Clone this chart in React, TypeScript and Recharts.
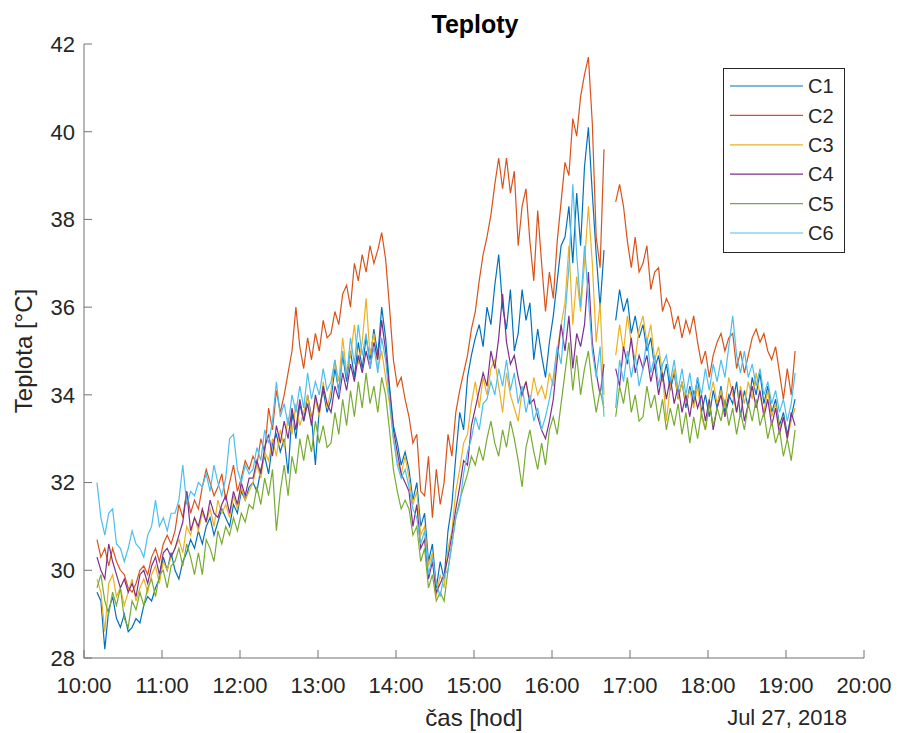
import { Line, LineChart, XAxis, YAxis } from 'recharts'

const FONT = '"Liberation Sans", Arial, Helvetica, sans-serif'
const AXIS = '#737373'
const TEXT = '#262626'

// samples every 3 minutes starting at 10:10 (minutes since midnight)
const MINUTE_START = 610
const STEP_MIN = 3

// one row = one hour (20 samples); null = logger gap around 16:43-16:46
const C1 = [
  29.5, 29.3, 28.2, 29.1, 29.4, 28.9, 28.7, 29.0, 28.6, 28.7, 28.9, 28.8, 29.2, 29.4, 29.3, 29.6, 29.8, 30.3, 30.0, 30.4,
  30.0, 29.8, 30.2, 30.4, 30.7, 30.5, 30.9, 30.6, 31.0, 31.2, 30.8, 31.1, 31.4, 31.2, 31.0, 31.5, 31.3, 31.8, 31.6, 31.9,
  32.0, 31.8, 32.3, 32.6, 32.2, 32.9, 33.1, 32.7, 33.0, 32.2, 33.6, 33.0, 33.8, 33.4, 34.0, 33.5, 32.4, 33.7, 34.1, 33.6,
  33.9, 34.6, 34.1, 34.9, 34.3, 35.0, 34.4, 35.2, 34.6, 35.3, 34.8, 35.5, 34.9, 36.0, 35.3, 34.2, 33.3, 32.9, 32.4, 32.7,
  32.3, 31.6, 32.0, 31.0, 31.3, 30.2, 30.6, 29.6, 30.2, 29.8, 30.9, 31.5, 32.6, 33.6, 33.2, 34.4, 34.9, 35.3, 35.6, 35.1,
  36.0, 35.6, 36.5, 37.2, 36.0, 35.5, 36.4, 35.0, 35.4, 36.4, 35.7, 36.1, 34.8, 35.5, 34.9, 34.4, 35.2, 35.8, 36.6, 37.4,
  37.6, 38.3, 37.0, 38.6, 37.4, 39.2, 40.1, 38.6, 37.2, 36.0, 37.3, null, null, 35.7, 36.4, 35.9, 36.2, 35.4, 35.8, 35.3,
  35.6, 35.0, 35.3, 34.6, 34.9, 34.3, 34.7, 34.1, 34.5, 33.9, 34.3, 33.7, 34.2, 33.8, 34.4, 33.6, 34.0, 33.5, 34.1, 33.7,
  34.2, 33.6, 34.0, 33.8, 34.3, 33.5, 34.1, 33.7, 34.4, 34.0, 34.5, 33.8, 34.2, 33.6, 33.9, 33.3, 33.6, 33.1, 33.5, 33.9,
]
const C2 = [
  30.7, 30.3, 30.5, 30.1, 30.5, 30.2, 30.0, 29.9, 29.6, 29.5, 29.7, 30.0, 30.1, 29.9, 30.3, 30.5, 30.2, 30.6, 30.8, 30.6,
  30.9, 31.5, 31.2, 31.8, 31.3, 31.6, 31.4, 31.9, 32.3, 32.0, 31.7, 31.9, 32.2, 31.6, 32.0, 32.4, 31.8, 32.1, 32.5, 32.3,
  32.6, 32.4, 33.0, 32.7, 33.7, 33.2, 34.1, 33.6, 34.0, 34.5, 35.0, 36.0, 35.1, 34.6, 35.3, 34.8, 35.4, 35.0, 35.7, 35.3,
  35.4, 35.9, 35.6, 36.3, 36.5, 36.0, 37.0, 36.6, 37.2, 36.8, 37.4, 37.0, 37.3, 37.7, 37.1, 36.0, 34.8, 34.2, 34.4, 33.9,
  33.5, 32.9, 33.1, 31.8, 31.7, 32.6, 31.2, 32.3, 31.5, 32.0, 33.1, 32.6, 33.6, 34.1, 34.5, 34.9, 35.5, 35.9, 36.6, 37.2,
  37.6, 38.1, 38.8, 39.4, 38.7, 39.4, 38.6, 39.1, 37.4, 38.3, 38.7, 37.5, 36.6, 38.2, 37.0, 35.9, 36.8, 36.2, 37.5, 38.4,
  39.3, 39.0, 40.3, 39.9, 40.8, 41.3, 41.7, 40.2, 37.6, 36.9, 39.6, null, null, 38.4, 38.8, 38.3, 37.5, 36.9, 37.6, 36.8,
  37.0, 37.4, 36.4, 36.8, 36.9, 35.9, 36.2, 36.0, 35.5, 35.8, 35.3, 35.7, 35.4, 35.8, 35.2, 34.7, 35.0, 34.4, 34.9, 35.2,
  35.4, 35.0, 35.3, 35.4, 34.6, 35.0, 34.5, 34.9, 35.3, 35.5, 35.2, 35.4, 35.0, 34.8, 35.1, 34.5, 33.9, 34.6, 34.0, 35.0,
]
const C3 = [
  29.8, 29.5, 28.6, 29.7, 29.9, 29.4, 29.6, 29.2, 29.5, 29.8, 29.3, 29.6, 29.8, 29.5, 29.9, 30.1, 29.7, 30.2, 30.0, 30.3,
  30.5, 30.7, 30.4, 31.0, 30.8, 31.2, 30.9, 31.3, 31.1, 31.4, 31.0, 31.6, 31.3, 31.5, 31.2, 31.7, 31.4, 31.9, 31.6, 31.8,
  32.0, 32.4, 32.1, 32.7, 32.5, 33.0, 32.6, 33.2, 32.8, 33.5, 33.1, 33.8, 33.3, 33.6, 34.0, 33.4, 33.9, 33.5, 34.3, 33.7,
  34.1, 34.8, 34.3, 35.3, 34.5, 34.9, 35.6, 34.7, 35.2, 36.2, 34.9, 35.4, 34.6, 35.0, 34.4, 33.8, 33.0, 32.5, 32.2, 32.6,
  32.1, 31.5, 31.8, 30.8, 31.0, 30.1, 30.4, 29.4, 29.9, 29.6, 30.5, 30.9, 31.8, 32.3, 32.9, 33.1, 33.8, 34.3, 33.7, 34.4,
  34.0, 34.6, 34.8, 34.2, 33.6, 34.5, 34.0, 33.7, 33.4, 34.1, 34.3, 33.8, 34.4, 34.0, 34.2, 33.9, 34.5, 34.2, 35.0, 35.6,
  36.1, 37.4, 35.6, 36.7, 35.9, 37.0, 38.3, 37.0, 35.2, 36.1, 34.0, null, null, 34.9, 35.6, 35.0, 35.8, 35.2, 34.8, 35.5,
  35.8, 35.2, 35.6, 34.8, 35.1, 34.5, 33.4, 34.2, 34.6, 33.9, 34.3, 33.8, 34.1, 33.7, 34.2, 33.5, 33.2, 33.9, 34.3, 33.8,
  34.1, 33.7, 34.4, 34.0, 33.6, 34.2, 33.8, 34.3, 33.9, 34.5, 34.0, 33.6, 34.1, 33.5, 33.8, 33.2, 33.5, 33.0, 33.4, 33.7,
]
const C4 = [
  30.3, 30.0, 29.8, 30.6, 30.2, 29.9, 29.6, 29.8, 29.5, 29.7, 29.4, 29.9, 30.0, 29.7, 30.1, 30.3, 29.9, 30.4, 30.5, 30.3,
  30.5, 30.8, 31.1, 31.8, 30.9, 31.2, 31.0, 31.4, 31.1, 31.6, 31.3, 31.2, 31.5, 31.7, 31.3, 31.8, 31.5, 32.0, 31.7, 32.1,
  32.1, 32.5, 32.2, 32.8, 33.1, 32.6, 33.3, 32.9, 33.4, 33.0, 33.7, 33.2, 33.9, 33.4, 33.8, 33.3, 34.0, 33.6, 34.2, 33.8,
  33.6, 34.2, 33.9, 34.5, 34.1, 34.7, 34.3, 34.9, 34.5, 35.0, 34.6, 35.2, 34.8, 35.7, 35.0, 34.1, 33.2, 32.7, 32.2, 32.0,
  31.8, 31.0, 31.5, 30.5, 30.7, 29.8, 30.2, 29.5, 29.7, 29.9, 30.3, 30.8, 31.4, 31.9, 32.5, 32.4, 33.3, 33.7, 34.1, 34.5,
  34.2, 35.0, 34.6, 35.3, 36.3, 35.2, 34.7, 34.9, 34.4, 34.0, 34.3, 33.8, 33.9, 33.5, 33.2, 33.0, 33.4, 33.9, 34.8, 35.6,
  35.0, 35.8, 34.6, 35.4, 35.1, 35.6, 36.8, 35.2, 34.5, 34.0, 34.7, null, null, 34.6, 34.2, 35.1, 34.7, 35.3, 34.5, 34.9,
  34.6, 34.9, 34.3, 34.7, 34.0, 34.5, 33.9, 34.4, 33.8, 34.2, 33.6, 34.0, 33.5, 34.1, 33.7, 34.0, 33.4, 33.9, 33.2, 33.7,
  34.0, 33.5, 33.9, 34.2, 33.6, 34.1, 33.4, 33.8, 34.2, 33.7, 34.1, 33.5, 33.9, 33.3, 33.7, 33.1, 33.5, 33.0, 33.6, 33.3,
]
const C5 = [
  29.6, 29.9, 29.3, 29.0, 29.5, 29.2, 29.6, 28.9, 28.7, 29.3, 29.1, 29.5, 29.2, 29.6, 29.8, 29.4, 29.9, 30.0, 29.6, 30.1,
  30.2, 30.5, 30.1, 30.6, 30.3, 29.9, 30.4, 29.9, 30.7, 30.5, 30.2, 30.9, 30.6, 31.0, 30.8, 31.2, 30.9, 31.3, 31.1, 31.5,
  31.4, 31.9, 31.5, 32.1, 31.7, 32.3, 30.9, 31.8, 32.4, 31.7, 32.6, 32.2, 33.0, 32.5, 33.1, 32.7, 33.4, 32.9, 33.3, 32.8,
  32.9, 33.6, 33.1, 33.9, 33.3, 34.1, 33.5, 34.3, 33.7, 34.5, 33.8, 34.2, 33.6, 34.4, 34.0, 33.2, 32.3, 31.8, 31.4, 31.6,
  31.4, 30.8, 31.0, 30.2, 30.5, 29.6, 29.9, 29.3, 29.5, 29.3, 30.0, 30.6, 31.2, 31.6, 31.9, 32.2, 32.6, 32.4, 32.8, 32.5,
  33.0, 33.4, 32.9, 32.6, 33.2, 32.8, 33.4, 33.0, 32.5, 31.9, 32.8, 33.2, 32.7, 32.3, 32.9, 32.4, 33.2, 33.5, 33.1, 33.8,
  34.5, 35.2, 34.1, 34.9, 34.0, 34.6, 35.0, 34.2, 33.6, 34.1, 33.7, null, null, 33.5, 34.2, 33.8, 34.4, 33.6, 34.0, 33.4,
  33.5, 34.2, 33.7, 34.0, 33.4, 33.9, 33.2, 33.7, 33.3, 33.8, 33.1, 33.6, 32.9, 33.5, 33.0, 33.6, 33.2, 33.8, 33.3, 33.7,
  33.4, 33.9, 33.3, 33.7, 33.1, 33.6, 33.2, 33.8, 33.4, 33.9, 33.3, 33.6, 33.0, 33.4, 32.9, 33.2, 32.6, 33.0, 32.5, 33.2,
]
const C6 = [
  32.0, 31.2, 30.8, 31.3, 31.4, 30.6, 30.5, 30.2, 30.5, 30.9, 30.6, 30.5, 30.3, 30.8, 31.0, 31.6, 31.0, 31.2, 30.9, 31.3,
  31.3, 31.6, 32.4, 31.5, 31.8, 31.7, 32.0, 31.9, 32.2, 31.8, 32.4, 32.0, 31.7, 32.1, 33.0, 33.1, 32.3, 32.0, 32.4, 32.2,
  32.3, 32.8, 32.5, 33.2, 32.9, 33.4, 34.3, 33.5, 33.8, 33.3, 34.0, 33.6, 34.2, 33.7, 34.5, 33.9, 34.3, 34.0, 34.6, 34.1,
  34.3, 34.8, 34.0, 35.0, 34.4, 35.3, 34.7, 35.6, 34.9, 35.4, 34.6, 35.1, 34.5, 35.3, 34.8, 33.9, 33.0, 32.4, 32.1, 32.3,
  31.9, 31.4, 31.2, 30.6, 30.9, 29.9, 30.3, 29.7, 29.4, 29.9, 30.0, 30.6, 31.2, 31.5, 32.2, 32.7, 33.0, 33.5, 33.2, 33.8,
  33.9, 34.3, 34.0, 34.6, 34.2, 34.8, 34.1, 34.5, 33.8, 34.2, 33.6, 34.0, 33.4, 33.7, 33.2, 33.5, 33.9, 34.4, 35.1, 34.7,
  35.8, 36.9, 38.8, 37.2, 36.0, 37.4, 36.2, 35.0, 34.4, 35.1, 33.5, null, null, 33.7, 34.8, 34.3, 35.0, 34.4, 34.9, 34.2,
  34.6, 35.3, 34.5, 34.9, 34.2, 34.7, 34.9, 34.3, 34.8, 34.1, 34.6, 34.0, 34.5, 33.9, 34.4, 34.0, 34.6, 34.1, 34.7, 34.3,
  34.8, 34.4, 35.1, 35.8, 34.9, 34.5, 35.0, 34.4, 34.7, 34.2, 34.6, 34.0, 34.3, 33.8, 34.1, 33.6, 33.9, 33.4, 33.8, 34.5,
]

const SERIES = [
  { key: 'C1', values: C1, color: '#0072BD' },
  { key: 'C2', values: C2, color: '#D95319' },
  { key: 'C3', values: C3, color: '#EDB120' },
  { key: 'C4', values: C4, color: '#7E2F8E' },
  { key: 'C5', values: C5, color: '#77AC30' },
  { key: 'C6', values: C6, color: '#4DBEEE' },
]

const X_TICKS = [600, 660, 720, 780, 840, 900, 960, 1020, 1080, 1140, 1200]
const X_TICK_LABELS = ['10:00', '11:00', '12:00', '13:00', '14:00', '15:00', '16:00', '17:00', '18:00', '19:00', '20:00']
const Y_TICKS = [28, 30, 32, 34, 36, 38, 40, 42]

const rows = C1.map((_, i) => {
  const row: Record<string, number | null> = { t: MINUTE_START + i * STEP_MIN }
  SERIES.forEach((s) => {
    row[s.key] = s.values[i]
  })
  return row
})

function XTick(props: any) {
  const { x, y, payload, index } = props
  const label = X_TICK_LABELS[index] ?? String(payload.value)
  return (
    <g>
      <line x1={x} x2={x} y1={y} y2={y - 8} stroke={AXIS} strokeWidth={1} />
      <text x={x} y={y + 35} textAnchor="middle" fontSize={22} fill={TEXT} fontFamily={FONT}>
        {label}
      </text>
    </g>
  )
}

function YTick(props: any) {
  const { x, y, payload } = props
  return (
    <g>
      <line x1={x} x2={x + 8} y1={y} y2={y} stroke={AXIS} strokeWidth={1} />
      <text x={x - 9} y={y} dy="0.36em" textAnchor="end" fontSize={22} fill={TEXT} fontFamily={FONT}>
        {payload.value}
      </text>
    </g>
  )
}

export default function App() {
  return (
    <div style={{ position: 'absolute', left: 0, top: 0, width: 899, height: 733, background: '#fff', fontFamily: FONT }}>
      <LineChart width={899} height={733} data={rows} margin={{ top: 44, right: 35, bottom: 45, left: 24 }}>
        <XAxis
          dataKey="t"
          type="number"
          domain={[600, 1200]}
          ticks={X_TICKS}
          interval={0}
          tick={(p: any) => <XTick {...p} />}
          tickLine={false}
          tickSize={0}
          tickMargin={0}
          height={30}
          axisLine={{ stroke: AXIS, strokeWidth: 1 }}
        />
        <YAxis
          type="number"
          domain={[28, 42]}
          ticks={Y_TICKS}
          interval={0}
          tick={(p: any) => <YTick {...p} />}
          tickLine={false}
          tickSize={0}
          tickMargin={0}
          width={60}
          axisLine={{ stroke: AXIS, strokeWidth: 1 }}
        />
        {SERIES.map((s) => (
          <Line
            key={s.key}
            dataKey={s.key}
            type="linear"
            stroke={s.color}
            strokeWidth={1.2}
            dot={false}
            activeDot={false}
            connectNulls={false}
            isAnimationActive={false}
          />
        ))}
      </LineChart>
      <svg
        width={899}
        height={733}
        style={{ position: 'absolute', left: 0, top: 0, pointerEvents: 'none' }}
        fontFamily={FONT}
      >
        <text x={475} y={33} textAnchor="middle" fontSize={25} fontWeight="bold" fill="#000">
          Teploty
        </text>
        <text x={474} y={726} textAnchor="middle" fontSize={24} fill={TEXT}>
          čas [hod]
        </text>
        <text x={847} y={725} textAnchor="end" fontSize={22} fill={TEXT}>
          Jul 27, 2018
        </text>
        <text x={32} y={351} textAnchor="middle" fontSize={24} fill={TEXT} transform="rotate(-90 32 351)">
          Teplota [°C]
        </text>
        <rect x={723.5} y={68.5} width={121} height={184} fill="#fff" stroke={TEXT} strokeWidth={1} />
        {SERIES.map((s, i) => (
          <g key={s.key}>
            <line x1={730} x2={803} y1={86 + i * 29.4} y2={86 + i * 29.4} stroke={s.color} strokeWidth={1.2} />
            <text x={808} y={86 + i * 29.4} dy="0.36em" fontSize={20} fill={TEXT}>
              {s.key}
            </text>
          </g>
        ))}
      </svg>
    </div>
  )
}
